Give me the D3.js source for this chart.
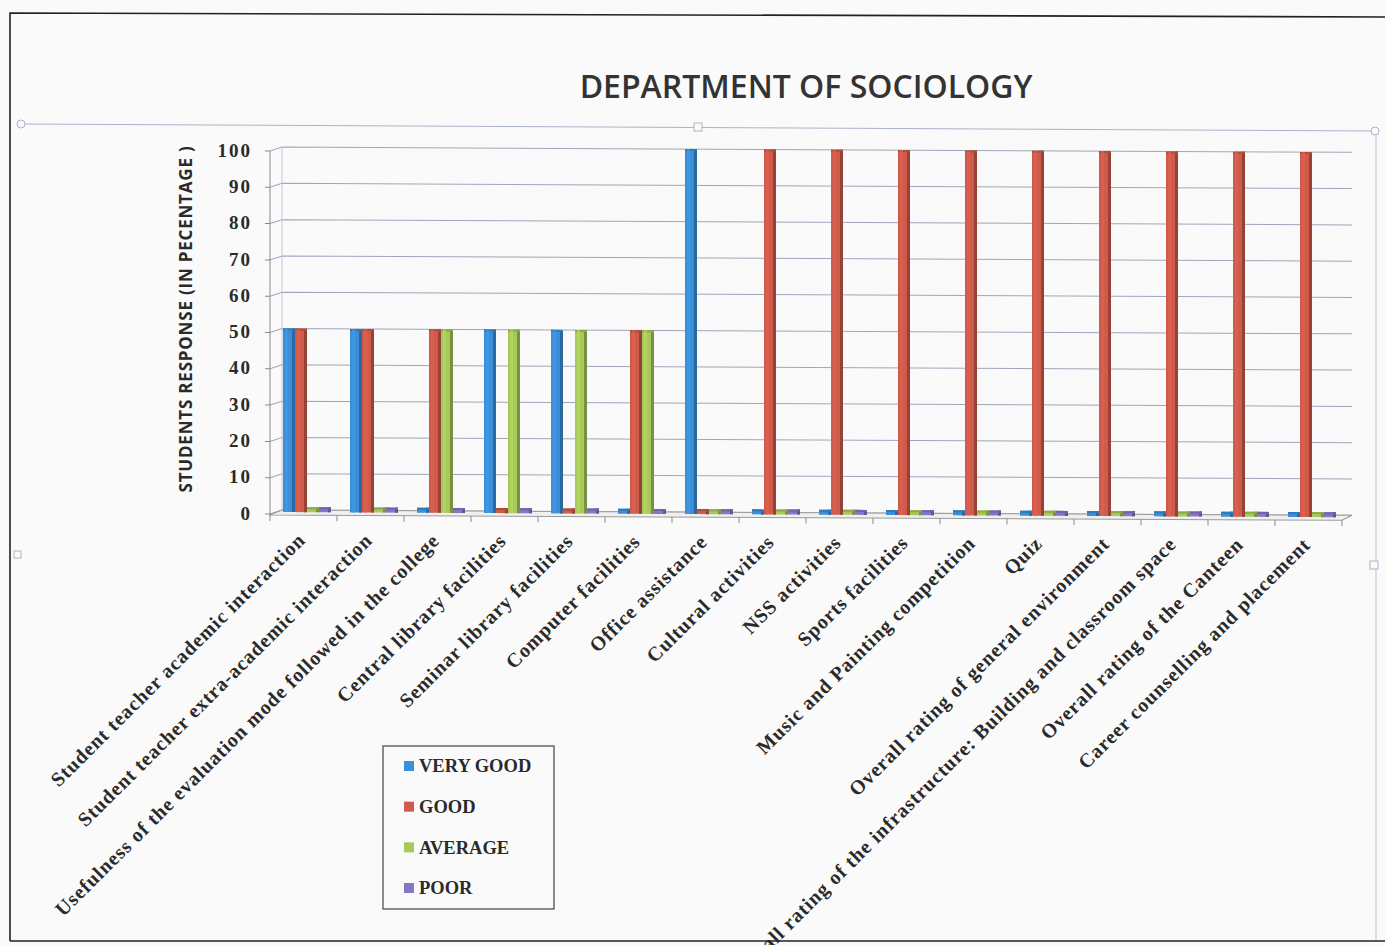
<!DOCTYPE html>
<html><head><meta charset="utf-8">
<script src="https://cdn.jsdelivr.net/npm/d3@7"></script>
<style>
html,body{margin:0;padding:0;background:#fafafa;}
svg{display:block;}
</style></head>
<body>
<script>
const categories = [
  "Student teacher academic interaction",
  "Student teacher extra-academic interaction",
  "Usefulness of the evaluation mode followed in the college",
  "Central library facilities",
  "Seminar library facilities",
  "Computer facilities",
  "Office assistance",
  "Cultural activities",
  "NSS activities",
  "Sports facilities",
  "Music and Painting competition",
  "Quiz",
  "Overall rating of general environment",
  "Overall rating of the infrastructure: Building and classroom space",
  "Overall rating of the Canteen",
  "Career counselling and placement"
];
const seriesNames = ["VERY GOOD", "GOOD", "AVERAGE", "POOR"];
const veryGood = [50, 50, 0, 50, 50, 0, 100, 0, 0, 0, 0, 0, 0, 0, 0, 0];
const good     = [50, 50, 50, 0, 0, 50, 0, 100, 100, 100, 100, 100, 100, 100, 100, 100];
const average  = [0, 0, 50, 50, 50, 50, 0, 0, 0, 0, 0, 0, 0, 0, 0, 0];
const poor     = [0, 0, 0, 0, 0, 0, 0, 0, 0, 0, 0, 0, 0, 0, 0, 0];
const yTicks = [0, 10, 20, 30, 40, 50, 60, 70, 80, 90, 100];
const colors = ["#3b8fd8", "#cf5b4b", "#a6c95a", "#8676c6"];
const title = "DEPARTMENT OF SOCIOLOGY";
const yTitle = "STUDENTS RESPONSE (IN PECENTAGE )";

const seriesValues = [veryGood, good, average, poor];
const serif = "'Liberation Serif', 'DejaVu Serif', serif";

const W = 1385, H = 945;
const svg = d3.select("body").append("svg").attr("width", W).attr("height", H);
svg.append("rect").attr("width", W).attr("height", H).attr("fill", "#fafafa");

// outer frame
svg.append("path").attr("d", "M10,941 L10,13 L1395,17").attr("fill", "none").attr("stroke", "#222").attr("stroke-width", 1.6);
svg.append("line").attr("x1", 10).attr("x2", 1395).attr("y1", 941).attr("y2", 941).attr("stroke", "#222").attr("stroke-width", 1.6);

// selection frame of plot area
const sel = svg.append("g").attr("stroke", "#aab4c8").attr("fill", "#fafafa");
sel.append("line").attr("x1", 21).attr("y1", 124).attr("x2", 1375).attr("y2", 131).attr("stroke-width", 1);
sel.append("line").attr("x1", 1376).attr("y1", 131).attr("x2", 1376).attr("y2", 940).attr("stroke-width", 0.8);
sel.append("circle").attr("cx", 21).attr("cy", 124).attr("r", 4);
sel.append("circle").attr("cx", 1375).attr("cy", 131).attr("r", 4);
sel.append("rect").attr("x", 694).attr("y", 123).attr("width", 8).attr("height", 8);
sel.append("rect").attr("x", 14).attr("y", 551).attr("width", 7).attr("height", 7);
sel.append("rect").attr("x", 1370).attr("y", 561).attr("width", 8).attr("height", 8);

// title
svg.append("text").attr("x", 806).attr("y", 98).attr("text-anchor", "middle")
  .attr("font-family", "'Open Sans', sans-serif").attr("font-weight", 600).attr("font-size", 32)
  .attr("fill", "#333").text(title);

// scales
const x = d3.scaleBand().domain(categories).range([270, 1342]).padding(0);
const x1 = d3.scaleBand().domain(seriesNames).range([13, 61]).padding(0);
const y = d3.scaleLinear().domain([0, 100]).range([510, 147]);
const depthX = 12, depthY = 4;

const plot = svg.append("g").attr("transform", "translate(270,0) skewY(0.28) translate(-270,0)");

// gridlines (back wall) with diagonal on left side wall
const grid = plot.append("g");
yTicks.forEach(v => {
  const yy = y(v);
  grid.append("path")
    .attr("d", `M${270},${yy + depthY} L${270 + depthX},${yy} L${1352},${yy}`)
    .attr("fill", "none").attr("stroke", v === 0 ? "#9a9a9a" : "#9ea7ba").attr("stroke-width", 1);
});
plot.append("line").attr("x1", 282).attr("x2", 282).attr("y1", y(100)).attr("y2", y(0)).attr("stroke", "#c2c8d4");

// floor
plot.append("path")
  .attr("d", `M270,${y(0) + depthY + 1} L${282},${y(0)} L1352,${y(0)} L1342,${y(0) + depthY + 1} Z`)
  .attr("fill", "#f0f0f0").attr("stroke", "#9a9a9a").attr("stroke-width", 1);

// front y axis line
plot.append("line").attr("x1", 270).attr("x2", 270).attr("y1", y(100) + depthY).attr("y2", y(0) + depthY + 2)
  .attr("stroke", "#8a8a8a");
yTicks.forEach(v => {
  plot.append("line").attr("x1", 265).attr("x2", 270).attr("y1", y(v) + depthY).attr("y2", y(v) + depthY).attr("stroke", "#8a8a8a");
});

// x ticks
const xTickPos = categories.map(c => x(c)).concat([x.range()[1]]);
xTickPos.forEach(px => {
  plot.append("line").attr("x1", px).attr("x2", px).attr("y1", y(0) + depthY + 1).attr("y2", y(0) + depthY + 7).attr("stroke", "#8a8a8a");
});

// bars
const bars = plot.append("g");
categories.forEach((c, i) => {
  seriesNames.forEach((s, k) => {
    const v = seriesValues[k][i];
    const bx = x(c) + x1(s);
    const bw = x1.bandwidth();
    const top = Math.min(y(v), y(0) - 3);
    const h = y(0) + 2 - top;
    const col = d3.color(colors[k]);
    const g = bars.append("g");
    g.append("rect").attr("x", bx).attr("y", top).attr("width", bw).attr("height", h).attr("fill", col.formatHex());
    g.append("rect").attr("x", bx + bw - 3).attr("y", top).attr("width", 3).attr("height", h).attr("fill", col.darker(0.9).formatHex());
    g.append("rect").attr("x", bx).attr("y", top).attr("width", bw).attr("height", 2).attr("fill", col.darker(0.5).formatHex());
    if (v > 0) {
      g.append("rect").attr("x", bx + 2).attr("y", top).attr("width", 3).attr("height", h).attr("fill", col.brighter(0.25).formatHex()).attr("opacity", 0.6);
    }
  });
});

// x labels
const xl = plot.append("g").attr("font-family", serif).attr("font-weight", 700)
  .attr("font-size", 20).attr("letter-spacing", 0.9).attr("fill", "#2a2a2a");
categories.forEach(c => {
  const cx = x(c) + x.bandwidth() / 2 + 3;
  const cy = y(0) + 31;
  xl.append("text").attr("transform", `translate(${cx},${cy}) rotate(-45)`).attr("text-anchor", "end").text(c);
});

// y tick labels
const yl = svg.append("g").attr("font-family", serif).attr("font-weight", 700)
  .attr("font-size", 19).attr("fill", "#2a2a2a").attr("letter-spacing", 2);
yTicks.forEach(v => {
  yl.append("text").attr("x", 252).attr("y", y(v) + 3).attr("dy", "0.35em").attr("text-anchor", "end").text(v);
});

// y title
svg.append("text").attr("transform", `translate(192,${(148 + 490) / 2}) rotate(-90)`).attr("text-anchor", "middle")
  .attr("font-family", "'Open Sans', sans-serif").attr("font-weight", 700).attr("font-size", 17)
  .attr("letter-spacing", 0.8).attr("fill", "#2a2a2a").text(yTitle);

// legend
const lg = svg.append("g");
lg.append("rect").attr("x", 383).attr("y", 746).attr("width", 171).attr("height", 163)
  .attr("fill", "#fafafa").attr("stroke", "#444").attr("stroke-width", 1.2);
const ly = d3.scalePoint().domain(seriesNames).range([766, 888]);
seriesNames.forEach((s, k) => {
  lg.append("rect").attr("x", 404).attr("y", ly(s) - 5).attr("width", 10).attr("height", 10).attr("fill", colors[k]);
  lg.append("text").attr("x", 419).attr("y", ly(s)).attr("dy", "0.35em")
    .attr("font-family", serif).attr("font-weight", 700).attr("font-size", 18.5)
    .attr("fill", "#2a2a2a").text(s);
});
</script>
</body></html>
